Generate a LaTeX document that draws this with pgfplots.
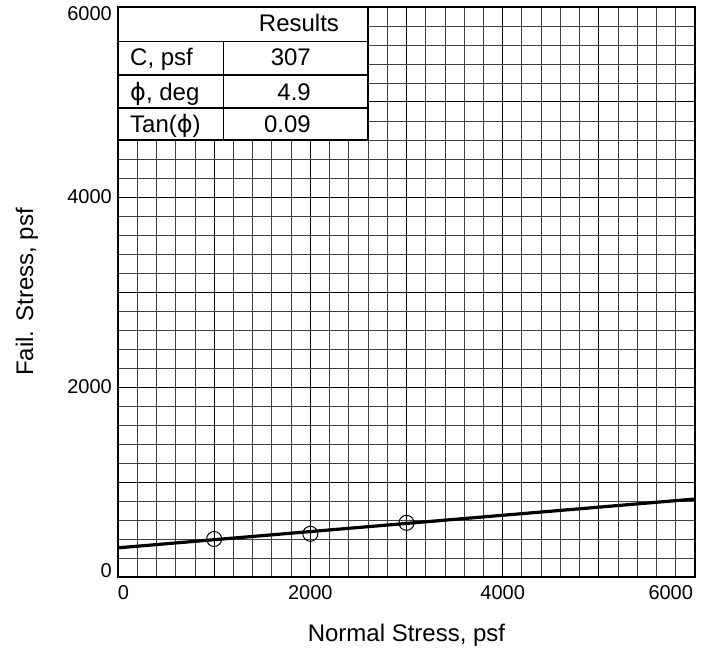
\documentclass[border=0pt]{standalone}
\usepackage{fontspec}
\setmainfont{Liberation Sans}
\newfontfamily\dejavu{DejaVu Sans}
\usepackage{pgfplots}
\pgfplotsset{compat=1.18}
\begin{document}
\begin{tikzpicture}
\path[use as bounding box] (-118pt,-77pt) rectangle (591pt,577pt);
\begin{axis}[
  at={(0,0)}, anchor=south west,
  scale only axis, width=577pt, height=570pt,
  xmin=0, xmax=6000, ymin=0, ymax=6000,
  xtick={0,1000,...,6000}, ytick={0,1000,...,6000},
  xticklabels={\makebox[0pt][l]{0},,2000,,4000,,\makebox[0pt][r]{6000\hspace{2pt}}},
  yticklabels={\raisebox{0pt}[0pt][0pt]{0},,2000,,4000,,\raisebox{-\height}[0pt][0pt]{6000}},
  minor x tick num=4, minor y tick num=4,
  grid=both,
  major grid style={black, line width=1.0pt},
  minor grid style={black!75, line width=0.8pt},
  major tick length=0pt, minor tick length=0pt,
  axis line style={black, line width=1.8pt},
  /pgf/number format/assume math mode=true,
  tick label style={font=\fontsize{20}{24}\selectfont},
  xticklabel style={inner sep=0pt, anchor=north, yshift=-8pt},
  yticklabel style={inner sep=0pt, anchor=east, xshift=-6pt},
  xlabel={Normal Stress, psf}, ylabel={Fail. Stress, psf},
  label style={font=\fontsize{24}{28}\selectfont},
  xlabel style={at={(axis description cs:0.5,-0.114)}, anchor=base},
  ylabel style={at={(axis description cs:-0.1473,0.5)}, anchor=base},
]
\addplot[black, line width=3.2pt] coordinates {(0,307) (6000,821)};
\addplot[only marks, mark=o, mark size=7.5pt, mark options={line width=1.0pt, black}] coordinates {(1000,400) (2000,455) (3000,570)};
\draw[fill=white, line width=1.8pt] (axis cs:0,4600) rectangle (axis cs:2600,6000);
\draw[line width=1.2pt] (axis cs:0,5640) -- (axis cs:2600,5640);
\draw[line width=1.2pt] (axis cs:0,5285) -- (axis cs:2600,5285);
\draw[line width=1.2pt] (axis cs:0,4937) -- (axis cs:2600,4937);
\draw[line width=1.2pt] (axis cs:1100,4600) -- (axis cs:1100,5640);
\begin{scope}[every node/.style={inner sep=0pt, font=\fontsize{24}{28}\selectfont}]
\node[anchor=base] at (axis cs:1882,5740) {Results};
\node[anchor=base west] at (axis cs:125,5379) {C, psf};
\node[anchor=base west] at (axis cs:125,5021) {{\dejavu ϕ}, deg};
\node[anchor=base west] at (axis cs:125,4677) {Tan({\dejavu ϕ})};
\node[anchor=base east] at (axis cs:2007,5379) {307};
\node[anchor=base east] at (axis cs:2007,5021) {4.9};
\node[anchor=base east] at (axis cs:2007,4677) {0.09};
\end{scope}
\end{axis}
\end{tikzpicture}
\end{document}
